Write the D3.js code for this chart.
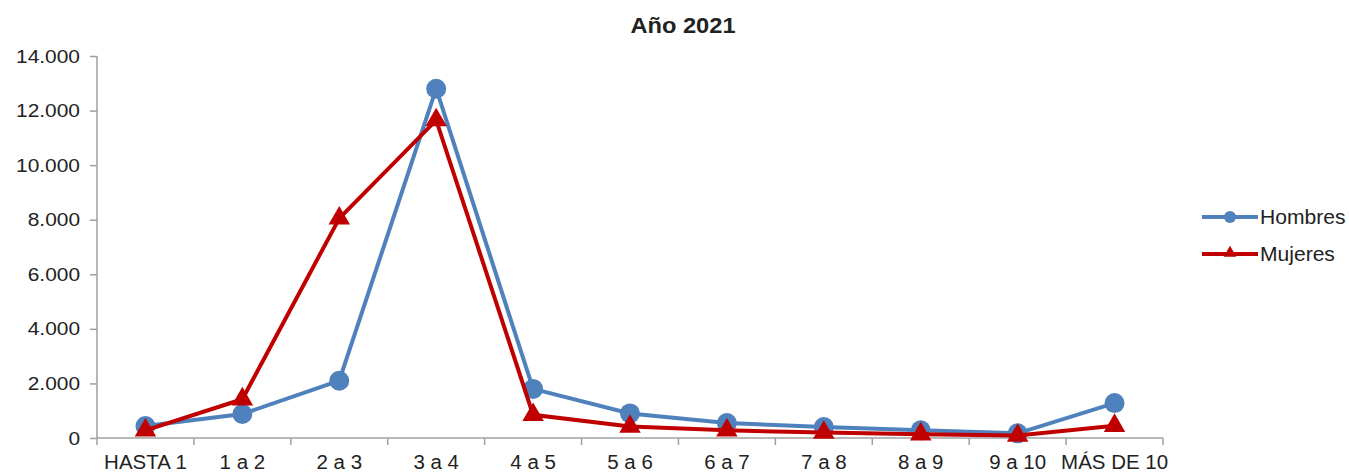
<!DOCTYPE html>
<html>
<head>
<meta charset="utf-8">
<script src="https://cdn.jsdelivr.net/npm/d3@7"></script>
<style>
  body { margin: 0; background: #fff; }
  svg text { font-family: "Liberation Sans", Arial, sans-serif; fill: #222; }
</style>
</head>
<body>
<div id="chart"></div>
<script>
// --- data ---
const categories = ["HASTA 1", "1 a 2", "2 a 3", "3 a 4", "4 a 5", "5 a 6", "6 a 7", "7 a 8", "8 a 9", "9 a 10", "MÁS DE 10"];
const hombres = [440, 880, 2100, 12800, 1800, 900, 550, 400, 280, 170, 1280];
const mujeres = [280, 1420, 8050, 11650, 850, 420, 280, 200, 140, 90, 450];
const yTicks = [0, 2000, 4000, 6000, 8000, 10000, 12000, 14000];

const W = 1349, H = 472;
const margin = { top: 56, right: 186, bottom: 34, left: 97 };
const width = W - margin.left - margin.right;
const height = H - margin.top - margin.bottom;

const svg = d3.select("#chart").append("svg")
  .attr("width", W).attr("height", H);

// the reference text is drawn a bit wider than the font, stretch it
function stretch(sel, k) {
  sel.each(function() {
    const len = this.getComputedTextLength();
    d3.select(this).attr("textLength", len * k).attr("lengthAdjust", "spacingAndGlyphs");
  });
}

svg.append("text")
  .attr("x", 683).attr("y", 33)
  .attr("text-anchor", "middle")
  .attr("font-size", "21.5px").attr("font-weight", "bold")
  .text("Año 2021")
  .call(stretch, 1.1);

const g = svg.append("g").attr("transform", `translate(${margin.left},${margin.top})`);

const x = d3.scaleBand().domain(categories).range([0, width]);
const y = d3.scaleLinear().domain([0, 14000]).range([height, 0]);
const fmt = d => d3.format(",")(d).replace(/,/g, ".");

// y axis
const yAxis = g.append("g")
  .call(d3.axisLeft(y).tickValues(yTicks).tickSize(7).tickPadding(10).tickFormat(fmt));
yAxis.selectAll("text").attr("font-size", "19px").call(stretch, 1.1);

// x axis with ticks at band edges
const xAxis = g.append("g").attr("transform", `translate(0,${height})`)
  .call(d3.axisBottom(x).tickSize(0).tickPadding(17));
xAxis.selectAll("text").attr("font-size", "19.5px").call(stretch, 1.05);
xAxis.selectAll(".edge")
  .data(categories.concat([null]))
  .enter().append("line")
  .attr("class", "edge")
  .attr("x1", (d, i) => i * x.step()).attr("x2", (d, i) => i * x.step())
  .attr("y1", 0).attr("y2", 7);

svg.selectAll(".domain, .tick line, .edge").attr("stroke", "#a0a0a0").attr("stroke-width", 1.5);
yAxis.select(".domain").attr("d", `M0,0V${height}`);
xAxis.select(".domain").attr("d", `M0,0H${width}`);

const cx = (d, i) => x(categories[i]) + x.bandwidth() / 2;
const line = d3.line().x((d, i) => cx(d, i)).y(d => y(d));

const blue = "#4f81bd", red = "#c00000";

g.append("path").datum(hombres)
  .attr("d", line).attr("fill", "none").attr("stroke", blue).attr("stroke-width", 4);
g.selectAll(".hom").data(hombres).enter().append("circle")
  .attr("cx", cx).attr("cy", d => y(d)).attr("r", 10).attr("fill", blue);

const tri = d3.symbol().type(d3.symbolTriangle).size(200);
g.append("path").datum(mujeres)
  .attr("d", line).attr("fill", "none").attr("stroke", red).attr("stroke-width", 4);
g.selectAll(".muj").data(mujeres).enter().append("path")
  .attr("d", tri)
  .attr("transform", (d, i) => `translate(${cx(d, i)},${y(d)})`)
  .attr("fill", red);

// legend
const legend = svg.append("g").attr("transform", "translate(1202,0)");
[["Hombres", blue, "c", 217], ["Mujeres", red, "t", 254]].forEach(([name, col, m, ly]) => {
  legend.append("line").attr("x1", 0).attr("x2", 56).attr("y1", ly).attr("y2", ly)
    .attr("stroke", col).attr("stroke-width", 4);
  if (m === "c") {
    legend.append("circle").attr("cx", 28).attr("cy", ly).attr("r", 6).attr("fill", col);
  } else {
    legend.append("path").attr("d", d3.symbol().type(d3.symbolTriangle).size(70))
      .attr("transform", `translate(28,${ly - 1})`).attr("fill", col);
  }
  legend.append("text").attr("x", 58).attr("y", ly + 7).attr("font-size", "19.5px").text(name)
    .call(stretch, 1.08);
});
</script>
</body>
</html>
